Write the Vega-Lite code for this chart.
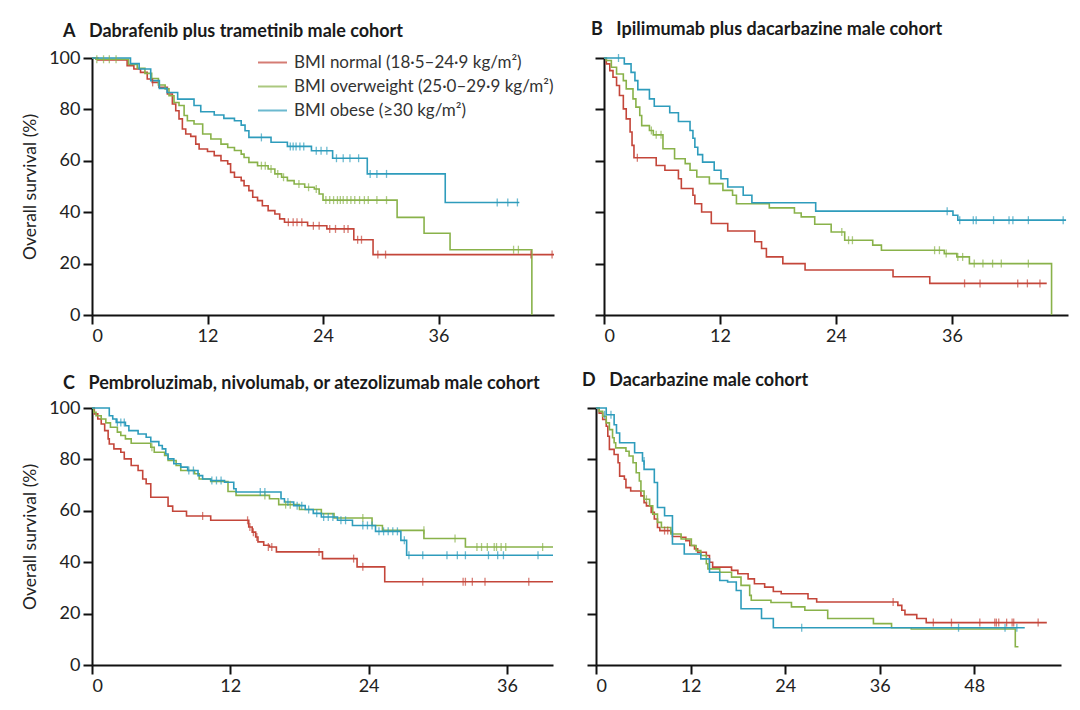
{
  "$schema": "https://vega.github.io/schema/vega-lite/v6.json",
  "background": "white",
  "padding": {"left": 21, "top": 21, "right": 5, "bottom": 5},
  "config": {
    "font": "Lato",
    "view": {"stroke": null},
    "axis": {"grid": false, "domainColor": "#111", "domainWidth": 2, "tickColor": "#111", "tickWidth": 2, "tickSize": 9, "labelFontSize": 18, "labelColor": "#222", "titleFontSize": 17.5, "titleFontWeight": "normal", "titleColor": "#222", "labelPadding": 3},
    "axisY": {"titlePadding": 9},
    "title": {"anchor": "start", "frame": "group", "fontSize": 18, "fontWeight": "bold", "color": "#1a1a1a", "offset": 6}
  },
  "datasets": {
    "surv": [
      {"p":"A","g":"n","t":0,"s":100},{"p":"A","g":"n","t":0.6,"s":99.2},{"p":"A","g":"n","t":3.65,"s":97},{"p":"A","g":"n","t":4.35,"s":95.7},{"p":"A","g":"n","t":5.04,"s":94.4},{"p":"A","g":"n","t":5.74,"s":91.8},{"p":"A","g":"n","t":6.26,"s":90.5},{"p":"A","g":"n","t":6.96,"s":88.6},{"p":"A","g":"n","t":7.83,"s":86},{"p":"A","g":"n","t":8.35,"s":82.1},{"p":"A","g":"n","t":8.7,"s":79.5},{"p":"A","g":"n","t":9.04,"s":76.3},{"p":"A","g":"n","t":9.39,"s":72.4},{"p":"A","g":"n","t":9.74,"s":70.4},{"p":"A","g":"n","t":10.26,"s":69.5},{"p":"A","g":"n","t":10.78,"s":66.5},{"p":"A","g":"n","t":11.13,"s":64.6},{"p":"A","g":"n","t":12,"s":63.6},{"p":"A","g":"n","t":12.7,"s":62},{"p":"A","g":"n","t":13.4,"s":60},{"p":"A","g":"n","t":14.1,"s":58.8},{"p":"A","g":"n","t":14.4,"s":55.5},{"p":"A","g":"n","t":14.8,"s":53.6},{"p":"A","g":"n","t":15.5,"s":52.3},{"p":"A","g":"n","t":15.8,"s":50.3},{"p":"A","g":"n","t":16.3,"s":48.4},{"p":"A","g":"n","t":16.7,"s":45.8},{"p":"A","g":"n","t":17.2,"s":44.5},{"p":"A","g":"n","t":17.7,"s":42.5},{"p":"A","g":"n","t":18.3,"s":40.6},{"p":"A","g":"n","t":19,"s":39.3},{"p":"A","g":"n","t":19.5,"s":37.4},{"p":"A","g":"n","t":20,"s":36.1},{"p":"A","g":"n","t":22.4,"s":34.7},{"p":"A","g":"n","t":24.4,"s":33.5},{"p":"A","g":"n","t":27.2,"s":29.3},{"p":"A","g":"n","t":29.2,"s":23.5},{"p":"A","g":"n","t":48,"s":23.5},
      {"p":"A","g":"o","t":0,"s":100},{"p":"A","g":"o","t":0.4,"s":99.5},{"p":"A","g":"o","t":3.8,"s":97.5},{"p":"A","g":"o","t":4.7,"s":96},{"p":"A","g":"o","t":5.5,"s":94},{"p":"A","g":"o","t":6.2,"s":92},{"p":"A","g":"o","t":6.9,"s":89.5},{"p":"A","g":"o","t":7.6,"s":88},{"p":"A","g":"o","t":8,"s":85.3},{"p":"A","g":"o","t":8.52,"s":82.7},{"p":"A","g":"o","t":9.04,"s":81.5},{"p":"A","g":"o","t":9.57,"s":77.6},{"p":"A","g":"o","t":9.91,"s":75.6},{"p":"A","g":"o","t":10.6,"s":74.3},{"p":"A","g":"o","t":11.5,"s":70.4},{"p":"A","g":"o","t":12.35,"s":68.5},{"p":"A","g":"o","t":13.4,"s":66.5},{"p":"A","g":"o","t":14.1,"s":65.2},{"p":"A","g":"o","t":14.8,"s":64},{"p":"A","g":"o","t":15.5,"s":62.6},{"p":"A","g":"o","t":15.8,"s":61.3},{"p":"A","g":"o","t":16.3,"s":59.4},{"p":"A","g":"o","t":17.2,"s":58.1},{"p":"A","g":"o","t":18.3,"s":56.8},{"p":"A","g":"o","t":19,"s":54.9},{"p":"A","g":"o","t":19.7,"s":53.6},{"p":"A","g":"o","t":20.3,"s":52.3},{"p":"A","g":"o","t":21,"s":51},{"p":"A","g":"o","t":22.1,"s":49.7},{"p":"A","g":"o","t":23.1,"s":49},{"p":"A","g":"o","t":23.6,"s":47.1},{"p":"A","g":"o","t":24,"s":44.7},{"p":"A","g":"o","t":31.7,"s":38},{"p":"A","g":"o","t":34.5,"s":31.8},{"p":"A","g":"o","t":37.2,"s":25.4},{"p":"A","g":"o","t":45.7,"s":0},
      {"p":"A","g":"b","t":0,"s":100},{"p":"A","g":"b","t":4,"s":97.8},{"p":"A","g":"b","t":4.9,"s":95.7},{"p":"A","g":"b","t":6.1,"s":91.2},{"p":"A","g":"b","t":7,"s":88.2},{"p":"A","g":"b","t":7.8,"s":86.6},{"p":"A","g":"b","t":8.9,"s":84},{"p":"A","g":"b","t":10.6,"s":81.5},{"p":"A","g":"b","t":11.3,"s":79.1},{"p":"A","g":"b","t":12.7,"s":77.8},{"p":"A","g":"b","t":13.7,"s":76.5},{"p":"A","g":"b","t":14.8,"s":75.6},{"p":"A","g":"b","t":15.5,"s":73.9},{"p":"A","g":"b","t":15.9,"s":71.7},{"p":"A","g":"b","t":16.3,"s":69.1},{"p":"A","g":"b","t":18.6,"s":67.2},{"p":"A","g":"b","t":20.3,"s":65.6},{"p":"A","g":"b","t":22.8,"s":63.9},{"p":"A","g":"b","t":25,"s":61},{"p":"A","g":"b","t":28.6,"s":54.9},{"p":"A","g":"b","t":36.7,"s":43.8},{"p":"A","g":"b","t":44.4,"s":43.8},
      {"p":"B","g":"n","t":0,"s":100},{"p":"B","g":"n","t":0.24,"s":97.7},{"p":"B","g":"n","t":0.6,"s":95.1},{"p":"B","g":"n","t":0.93,"s":92.5},{"p":"B","g":"n","t":1.3,"s":89.3},{"p":"B","g":"n","t":1.6,"s":85.4},{"p":"B","g":"n","t":2,"s":80.2},{"p":"B","g":"n","t":2.3,"s":76.3},{"p":"B","g":"n","t":2.7,"s":71.2},{"p":"B","g":"n","t":2.9,"s":66},{"p":"B","g":"n","t":3.1,"s":61.2},{"p":"B","g":"n","t":5.4,"s":58.2},{"p":"B","g":"n","t":6.3,"s":56.3},{"p":"B","g":"n","t":7.7,"s":53},{"p":"B","g":"n","t":8,"s":49.2},{"p":"B","g":"n","t":9.2,"s":46.6},{"p":"B","g":"n","t":9.4,"s":43.3},{"p":"B","g":"n","t":10.1,"s":40.1},{"p":"B","g":"n","t":11.1,"s":35.6},{"p":"B","g":"n","t":12.8,"s":32.7},{"p":"B","g":"n","t":15.6,"s":28.5},{"p":"B","g":"n","t":16.3,"s":25.9},{"p":"B","g":"n","t":16.8,"s":22.6},{"p":"B","g":"n","t":18.5,"s":20},{"p":"B","g":"n","t":20.8,"s":17.5},{"p":"B","g":"n","t":29.9,"s":14.9},{"p":"B","g":"n","t":33.7,"s":12.3},{"p":"B","g":"n","t":45.8,"s":12.3},
      {"p":"B","g":"o","t":0,"s":100},{"p":"B","g":"o","t":0.24,"s":99},{"p":"B","g":"o","t":0.76,"s":96.4},{"p":"B","g":"o","t":1.3,"s":93.8},{"p":"B","g":"o","t":2,"s":91.2},{"p":"B","g":"o","t":2.3,"s":88},{"p":"B","g":"o","t":3,"s":84.1},{"p":"B","g":"o","t":3.3,"s":80.9},{"p":"B","g":"o","t":3.7,"s":77.6},{"p":"B","g":"o","t":3.9,"s":73.7},{"p":"B","g":"o","t":4.7,"s":71.8},{"p":"B","g":"o","t":5.1,"s":70.1},{"p":"B","g":"o","t":6.1,"s":64.7},{"p":"B","g":"o","t":7.3,"s":60.8},{"p":"B","g":"o","t":8.4,"s":58.9},{"p":"B","g":"o","t":8.9,"s":56.3},{"p":"B","g":"o","t":9.6,"s":53.7},{"p":"B","g":"o","t":10.9,"s":51.1},{"p":"B","g":"o","t":12.3,"s":48.5},{"p":"B","g":"o","t":13.3,"s":46.6},{"p":"B","g":"o","t":13.7,"s":43.3},{"p":"B","g":"o","t":17.1,"s":41.7},{"p":"B","g":"o","t":19.7,"s":39.7},{"p":"B","g":"o","t":20.4,"s":38.2},{"p":"B","g":"o","t":21.8,"s":35.3},{"p":"B","g":"o","t":23.5,"s":32.3},{"p":"B","g":"o","t":24.9,"s":29.1},{"p":"B","g":"o","t":27.8,"s":27.2},{"p":"B","g":"o","t":28.7,"s":25.2},{"p":"B","g":"o","t":35.2,"s":23.9},{"p":"B","g":"o","t":36.5,"s":22.6},{"p":"B","g":"o","t":37.8,"s":20},{"p":"B","g":"o","t":46.3,"s":0},
      {"p":"B","g":"b","t":0,"s":100},{"p":"B","g":"b","t":2.1,"s":97.7},{"p":"B","g":"b","t":2.8,"s":94.4},{"p":"B","g":"b","t":3.2,"s":91.2},{"p":"B","g":"b","t":3.5,"s":87.7},{"p":"B","g":"b","t":4.7,"s":84.1},{"p":"B","g":"b","t":5.2,"s":81.2},{"p":"B","g":"b","t":6.8,"s":78.7},{"p":"B","g":"b","t":7.7,"s":75.3},{"p":"B","g":"b","t":8.9,"s":71.8},{"p":"B","g":"b","t":9.2,"s":68.8},{"p":"B","g":"b","t":9.4,"s":65.3},{"p":"B","g":"b","t":9.7,"s":62.4},{"p":"B","g":"b","t":10.2,"s":59.5},{"p":"B","g":"b","t":11.4,"s":56.3},{"p":"B","g":"b","t":12.1,"s":53},{"p":"B","g":"b","t":12.8,"s":49.8},{"p":"B","g":"b","t":14.4,"s":46.6},{"p":"B","g":"b","t":15.3,"s":43.7},{"p":"B","g":"b","t":21.9,"s":40.4},{"p":"B","g":"b","t":36.1,"s":38.8},{"p":"B","g":"b","t":36.6,"s":36.9},{"p":"B","g":"b","t":47.8,"s":36.9},
      {"p":"C","g":"n","t":0,"s":100},{"p":"C","g":"n","t":0.2,"s":97.7},{"p":"C","g":"n","t":0.5,"s":95.7},{"p":"C","g":"n","t":0.8,"s":93.8},{"p":"C","g":"n","t":1.1,"s":91.2},{"p":"C","g":"n","t":1.4,"s":88},{"p":"C","g":"n","t":1.5,"s":86},{"p":"C","g":"n","t":1.9,"s":84.1},{"p":"C","g":"n","t":2.5,"s":82.8},{"p":"C","g":"n","t":2.8,"s":80.2},{"p":"C","g":"n","t":3.4,"s":77.6},{"p":"C","g":"n","t":4,"s":75.7},{"p":"C","g":"n","t":4.4,"s":72.4},{"p":"C","g":"n","t":4.7,"s":70.5},{"p":"C","g":"n","t":5.1,"s":65.3},{"p":"C","g":"n","t":6.6,"s":61.8},{"p":"C","g":"n","t":7,"s":59.8},{"p":"C","g":"n","t":8.2,"s":58},{"p":"C","g":"n","t":10.3,"s":56.3},{"p":"C","g":"n","t":13.6,"s":53.7},{"p":"C","g":"n","t":13.9,"s":51.7},{"p":"C","g":"n","t":14.2,"s":49.8},{"p":"C","g":"n","t":14.4,"s":47.9},{"p":"C","g":"n","t":14.9,"s":46.6},{"p":"C","g":"n","t":15.4,"s":45.9},{"p":"C","g":"n","t":16,"s":44},{"p":"C","g":"n","t":20,"s":41.4},{"p":"C","g":"n","t":23,"s":38.2},{"p":"C","g":"n","t":25.4,"s":32.4},{"p":"C","g":"n","t":40,"s":32.4},
      {"p":"C","g":"o","t":0,"s":100},{"p":"C","g":"o","t":0.15,"s":98.3},{"p":"C","g":"o","t":0.35,"s":97},{"p":"C","g":"o","t":0.8,"s":95.7},{"p":"C","g":"o","t":1.2,"s":94.2},{"p":"C","g":"o","t":1.6,"s":92.5},{"p":"C","g":"o","t":2.2,"s":90.6},{"p":"C","g":"o","t":2.5,"s":89.3},{"p":"C","g":"o","t":2.9,"s":88},{"p":"C","g":"o","t":3.4,"s":86.3},{"p":"C","g":"o","t":5.1,"s":84.7},{"p":"C","g":"o","t":5.4,"s":82.8},{"p":"C","g":"o","t":6.3,"s":81.5},{"p":"C","g":"o","t":6.6,"s":79.6},{"p":"C","g":"o","t":7.3,"s":77.6},{"p":"C","g":"o","t":7.7,"s":75.7},{"p":"C","g":"o","t":8.9,"s":74.4},{"p":"C","g":"o","t":9.3,"s":72.4},{"p":"C","g":"o","t":10.3,"s":71.4},{"p":"C","g":"o","t":11.8,"s":67.5},{"p":"C","g":"o","t":12.5,"s":66},{"p":"C","g":"o","t":15.4,"s":64.7},{"p":"C","g":"o","t":16.2,"s":62.4},{"p":"C","g":"o","t":18,"s":60.5},{"p":"C","g":"o","t":19.9,"s":58.9},{"p":"C","g":"o","t":21,"s":57.2},{"p":"C","g":"o","t":24.3,"s":54.3},{"p":"C","g":"o","t":25.2,"s":52.4},{"p":"C","g":"o","t":28.8,"s":49.2},{"p":"C","g":"o","t":32.4,"s":45.9},{"p":"C","g":"o","t":40,"s":45.9},
      {"p":"C","g":"b","t":0,"s":100},{"p":"C","g":"b","t":1.5,"s":97},{"p":"C","g":"b","t":1.8,"s":95.7},{"p":"C","g":"b","t":2.1,"s":94.4},{"p":"C","g":"b","t":2.9,"s":93.1},{"p":"C","g":"b","t":3.2,"s":91.2},{"p":"C","g":"b","t":4,"s":89.9},{"p":"C","g":"b","t":4.7,"s":88.6},{"p":"C","g":"b","t":5.1,"s":86.9},{"p":"C","g":"b","t":5.8,"s":85.4},{"p":"C","g":"b","t":6.1,"s":84.1},{"p":"C","g":"b","t":6.4,"s":82.1},{"p":"C","g":"b","t":6.6,"s":80.2},{"p":"C","g":"b","t":7.1,"s":78.3},{"p":"C","g":"b","t":7.7,"s":77},{"p":"C","g":"b","t":8.3,"s":75.7},{"p":"C","g":"b","t":9.2,"s":73.7},{"p":"C","g":"b","t":9.6,"s":72.4},{"p":"C","g":"b","t":10.3,"s":71.8},{"p":"C","g":"b","t":11.5,"s":71.1},{"p":"C","g":"b","t":12.3,"s":68.6},{"p":"C","g":"b","t":12.5,"s":67.3},{"p":"C","g":"b","t":16.4,"s":64.7},{"p":"C","g":"b","t":16.7,"s":63.4},{"p":"C","g":"b","t":17.5,"s":62},{"p":"C","g":"b","t":18.5,"s":60.5},{"p":"C","g":"b","t":19.2,"s":59},{"p":"C","g":"b","t":19.9,"s":57.6},{"p":"C","g":"b","t":21.3,"s":56.3},{"p":"C","g":"b","t":22.6,"s":54.3},{"p":"C","g":"b","t":24.6,"s":52},{"p":"C","g":"b","t":26.8,"s":48.5},{"p":"C","g":"b","t":27.3,"s":42.7},{"p":"C","g":"b","t":40,"s":42.7},
      {"p":"D","g":"n","t":0,"s":100},{"p":"D","g":"n","t":0.4,"s":98},{"p":"D","g":"n","t":0.85,"s":95.5},{"p":"D","g":"n","t":1.3,"s":92.9},{"p":"D","g":"n","t":1.5,"s":89},{"p":"D","g":"n","t":1.7,"s":83.9},{"p":"D","g":"n","t":2.3,"s":81.9},{"p":"D","g":"n","t":2.8,"s":78.7},{"p":"D","g":"n","t":3,"s":73.5},{"p":"D","g":"n","t":3.6,"s":72.3},{"p":"D","g":"n","t":3.8,"s":69},{"p":"D","g":"n","t":4.4,"s":67.7},{"p":"D","g":"n","t":5.7,"s":65.8},{"p":"D","g":"n","t":6.1,"s":63.2},{"p":"D","g":"n","t":6.4,"s":61.9},{"p":"D","g":"n","t":7,"s":59.4},{"p":"D","g":"n","t":7.4,"s":56.8},{"p":"D","g":"n","t":7.8,"s":53.5},{"p":"D","g":"n","t":8.1,"s":52.3},{"p":"D","g":"n","t":9.5,"s":51.6},{"p":"D","g":"n","t":9.7,"s":50},{"p":"D","g":"n","t":10.8,"s":49.7},{"p":"D","g":"n","t":11.4,"s":48.4},{"p":"D","g":"n","t":11.9,"s":46.5},{"p":"D","g":"n","t":12.5,"s":45.2},{"p":"D","g":"n","t":12.9,"s":43.9},{"p":"D","g":"n","t":14,"s":42.6},{"p":"D","g":"n","t":14.4,"s":40},{"p":"D","g":"n","t":14.8,"s":38.1},{"p":"D","g":"n","t":17.2,"s":36.8},{"p":"D","g":"n","t":18,"s":35.5},{"p":"D","g":"n","t":19.3,"s":33.5},{"p":"D","g":"n","t":20.1,"s":31.6},{"p":"D","g":"n","t":21.4,"s":30.3},{"p":"D","g":"n","t":22.5,"s":28.6},{"p":"D","g":"n","t":23.5,"s":27.7},{"p":"D","g":"n","t":26.9,"s":25.8},{"p":"D","g":"n","t":28,"s":24.5},{"p":"D","g":"n","t":38.3,"s":23.2},{"p":"D","g":"n","t":38.8,"s":21.3},{"p":"D","g":"n","t":39.2,"s":19.6},{"p":"D","g":"n","t":40.7,"s":18.1},{"p":"D","g":"n","t":41.9,"s":16.5},{"p":"D","g":"n","t":57.2,"s":16.5},
      {"p":"D","g":"o","t":0,"s":100},{"p":"D","g":"o","t":0.4,"s":98.7},{"p":"D","g":"o","t":0.85,"s":96.8},{"p":"D","g":"o","t":1.3,"s":94.2},{"p":"D","g":"o","t":1.7,"s":91.6},{"p":"D","g":"o","t":2.1,"s":88.4},{"p":"D","g":"o","t":2.3,"s":86.5},{"p":"D","g":"o","t":2.5,"s":84.5},{"p":"D","g":"o","t":3.8,"s":83.2},{"p":"D","g":"o","t":4.2,"s":81.3},{"p":"D","g":"o","t":4.7,"s":78.7},{"p":"D","g":"o","t":5.1,"s":74.8},{"p":"D","g":"o","t":5.5,"s":71.6},{"p":"D","g":"o","t":5.7,"s":67.7},{"p":"D","g":"o","t":6.1,"s":64.5},{"p":"D","g":"o","t":6.8,"s":61.9},{"p":"D","g":"o","t":7.2,"s":58.7},{"p":"D","g":"o","t":7.8,"s":55.5},{"p":"D","g":"o","t":8.3,"s":53.5},{"p":"D","g":"o","t":9.5,"s":51},{"p":"D","g":"o","t":10.8,"s":49},{"p":"D","g":"o","t":12.1,"s":46.5},{"p":"D","g":"o","t":12.7,"s":44.5},{"p":"D","g":"o","t":13.3,"s":42.6},{"p":"D","g":"o","t":14,"s":39.4},{"p":"D","g":"o","t":14.2,"s":37.4},{"p":"D","g":"o","t":15.7,"s":36.1},{"p":"D","g":"o","t":17.2,"s":34.2},{"p":"D","g":"o","t":18.4,"s":31},{"p":"D","g":"o","t":19.5,"s":27.1},{"p":"D","g":"o","t":19.7,"s":25.2},{"p":"D","g":"o","t":22.2,"s":24.3},{"p":"D","g":"o","t":24.8,"s":22.6},{"p":"D","g":"o","t":26.5,"s":21.3},{"p":"D","g":"o","t":29.4,"s":18.1},{"p":"D","g":"o","t":35.2,"s":16.1},{"p":"D","g":"o","t":37.5,"s":14.5},{"p":"D","g":"o","t":40,"s":14},{"p":"D","g":"o","t":53.2,"s":7.1},{"p":"D","g":"o","t":53.6,"s":7.1},
      {"p":"D","g":"b","t":0,"s":100},{"p":"D","g":"b","t":1.3,"s":97.4},{"p":"D","g":"b","t":2.3,"s":93.5},{"p":"D","g":"b","t":2.6,"s":90.3},{"p":"D","g":"b","t":3,"s":86.5},{"p":"D","g":"b","t":4.9,"s":82.6},{"p":"D","g":"b","t":5.9,"s":79.4},{"p":"D","g":"b","t":6.1,"s":76.1},{"p":"D","g":"b","t":7.4,"s":71},{"p":"D","g":"b","t":7.8,"s":61.3},{"p":"D","g":"b","t":8.7,"s":58.1},{"p":"D","g":"b","t":9.7,"s":47.1},{"p":"D","g":"b","t":11.2,"s":43.2},{"p":"D","g":"b","t":13.3,"s":41.3},{"p":"D","g":"b","t":14.4,"s":36.1},{"p":"D","g":"b","t":15.7,"s":32.9},{"p":"D","g":"b","t":16.7,"s":32.3},{"p":"D","g":"b","t":17.8,"s":29},{"p":"D","g":"b","t":18.4,"s":21.9},{"p":"D","g":"b","t":21,"s":18.1},{"p":"D","g":"b","t":22.5,"s":14.5},{"p":"D","g":"b","t":54.4,"s":14.5}
    ],
    "cens": [
      {"p":"A","g":"n","t":6.3,"s":90.5},{"p":"A","g":"n","t":20.4,"s":36.1},{"p":"A","g":"n","t":20.9,"s":36.1},{"p":"A","g":"n","t":21.3,"s":36.1},{"p":"A","g":"n","t":21.8,"s":36.1},{"p":"A","g":"n","t":23,"s":34.7},{"p":"A","g":"n","t":23.6,"s":34.7},{"p":"A","g":"n","t":24.7,"s":33.5},{"p":"A","g":"n","t":25.3,"s":33.5},{"p":"A","g":"n","t":26.2,"s":33.5},{"p":"A","g":"n","t":26.6,"s":33.5},{"p":"A","g":"n","t":27.6,"s":29.3},{"p":"A","g":"n","t":28,"s":29.3},{"p":"A","g":"n","t":29.7,"s":23.5},{"p":"A","g":"n","t":30.5,"s":23.5},{"p":"A","g":"n","t":45.6,"s":23.5},{"p":"A","g":"n","t":47.8,"s":23.5},
      {"p":"A","g":"o","t":0.5,"s":99.5},{"p":"A","g":"o","t":1.2,"s":99.5},{"p":"A","g":"o","t":1.8,"s":99.5},{"p":"A","g":"o","t":2.5,"s":99.5},{"p":"A","g":"o","t":17.6,"s":58.1},{"p":"A","g":"o","t":18,"s":58.1},{"p":"A","g":"o","t":18.6,"s":56.8},{"p":"A","g":"o","t":19.3,"s":54.9},{"p":"A","g":"o","t":19.9,"s":53.6},{"p":"A","g":"o","t":21.5,"s":51},{"p":"A","g":"o","t":22.5,"s":49.7},{"p":"A","g":"o","t":23.3,"s":49},{"p":"A","g":"o","t":24.3,"s":44.7},{"p":"A","g":"o","t":24.7,"s":44.7},{"p":"A","g":"o","t":25.1,"s":44.7},{"p":"A","g":"o","t":25.5,"s":44.7},{"p":"A","g":"o","t":25.8,"s":44.7},{"p":"A","g":"o","t":26.1,"s":44.7},{"p":"A","g":"o","t":26.5,"s":44.7},{"p":"A","g":"o","t":26.9,"s":44.7},{"p":"A","g":"o","t":27.3,"s":44.7},{"p":"A","g":"o","t":27.8,"s":44.7},{"p":"A","g":"o","t":28.3,"s":44.7},{"p":"A","g":"o","t":28.7,"s":44.7},{"p":"A","g":"o","t":29.6,"s":44.7},{"p":"A","g":"o","t":30.6,"s":44.7},{"p":"A","g":"o","t":43.8,"s":25.4},{"p":"A","g":"o","t":44.3,"s":25.4},
      {"p":"A","g":"b","t":17.6,"s":69.1},{"p":"A","g":"b","t":20.6,"s":65.6},{"p":"A","g":"b","t":20.9,"s":65.6},{"p":"A","g":"b","t":21.2,"s":65.6},{"p":"A","g":"b","t":21.6,"s":65.6},{"p":"A","g":"b","t":22,"s":65.6},{"p":"A","g":"b","t":23.3,"s":63.9},{"p":"A","g":"b","t":23.8,"s":63.9},{"p":"A","g":"b","t":24.4,"s":63.9},{"p":"A","g":"b","t":25.4,"s":61},{"p":"A","g":"b","t":26.1,"s":61},{"p":"A","g":"b","t":26.8,"s":61},{"p":"A","g":"b","t":27.7,"s":61},{"p":"A","g":"b","t":28.9,"s":54.9},{"p":"A","g":"b","t":29.6,"s":54.9},{"p":"A","g":"b","t":30.6,"s":54.9},{"p":"A","g":"b","t":42.1,"s":43.8},{"p":"A","g":"b","t":43.2,"s":43.8},{"p":"A","g":"b","t":44.2,"s":43.8},
      {"p":"B","g":"n","t":3.45,"s":61.2},{"p":"B","g":"n","t":37.3,"s":12.3},{"p":"B","g":"n","t":38.9,"s":12.3},{"p":"B","g":"n","t":42.8,"s":12.3},{"p":"B","g":"n","t":43.8,"s":12.3},{"p":"B","g":"n","t":45.1,"s":12.3},
      {"p":"B","g":"o","t":4.9,"s":71.8},{"p":"B","g":"o","t":5.4,"s":70.1},{"p":"B","g":"o","t":5.9,"s":70.1},{"p":"B","g":"o","t":24.6,"s":32.3},{"p":"B","g":"o","t":25.3,"s":29.1},{"p":"B","g":"o","t":25.7,"s":29.1},{"p":"B","g":"o","t":34.2,"s":25.2},{"p":"B","g":"o","t":34.7,"s":25.2},{"p":"B","g":"o","t":35.4,"s":23.9},{"p":"B","g":"o","t":36.6,"s":22.6},{"p":"B","g":"o","t":37.1,"s":22.6},{"p":"B","g":"o","t":38.3,"s":20},{"p":"B","g":"o","t":39.2,"s":20},{"p":"B","g":"o","t":40.2,"s":20},{"p":"B","g":"o","t":41.1,"s":20},{"p":"B","g":"o","t":43.9,"s":20},
      {"p":"B","g":"b","t":1.5,"s":100},{"p":"B","g":"b","t":35.5,"s":40.4},{"p":"B","g":"b","t":36.8,"s":36.9},{"p":"B","g":"b","t":38.2,"s":36.9},{"p":"B","g":"b","t":38.5,"s":36.9},{"p":"B","g":"b","t":40.3,"s":36.9},{"p":"B","g":"b","t":41.9,"s":36.9},{"p":"B","g":"b","t":42.3,"s":36.9},{"p":"B","g":"b","t":43.9,"s":36.9},{"p":"B","g":"b","t":47.5,"s":36.9},
      {"p":"C","g":"n","t":9.6,"s":58},{"p":"C","g":"n","t":13.5,"s":56.3},{"p":"C","g":"n","t":13.7,"s":53.7},{"p":"C","g":"n","t":14,"s":51.7},{"p":"C","g":"n","t":14.3,"s":49.8},{"p":"C","g":"n","t":15.3,"s":45.9},{"p":"C","g":"n","t":15.6,"s":45.9},{"p":"C","g":"n","t":19.7,"s":44},{"p":"C","g":"n","t":22.7,"s":41.4},{"p":"C","g":"n","t":23.5,"s":38.2},{"p":"C","g":"n","t":28.7,"s":32.4},{"p":"C","g":"n","t":32.2,"s":32.4},{"p":"C","g":"n","t":32.4,"s":32.4},{"p":"C","g":"n","t":33,"s":32.4},{"p":"C","g":"n","t":34.1,"s":32.4},{"p":"C","g":"n","t":37.9,"s":32.4},
      {"p":"C","g":"o","t":5.2,"s":84.7},{"p":"C","g":"o","t":15,"s":66},{"p":"C","g":"o","t":16.8,"s":62.4},{"p":"C","g":"o","t":17.2,"s":62.4},{"p":"C","g":"o","t":23.5,"s":57.2},{"p":"C","g":"o","t":28.8,"s":52.4},{"p":"C","g":"o","t":31.5,"s":49.2},{"p":"C","g":"o","t":33.4,"s":45.9},{"p":"C","g":"o","t":33.8,"s":45.9},{"p":"C","g":"o","t":34.3,"s":45.9},{"p":"C","g":"o","t":34.9,"s":45.9},{"p":"C","g":"o","t":35.1,"s":45.9},{"p":"C","g":"o","t":35.5,"s":45.9},{"p":"C","g":"o","t":35.9,"s":45.9},{"p":"C","g":"o","t":39.1,"s":45.9},
      {"p":"C","g":"b","t":2.2,"s":94.4},{"p":"C","g":"b","t":2.5,"s":94.4},{"p":"C","g":"b","t":2.8,"s":94.4},{"p":"C","g":"b","t":8.4,"s":75.7},{"p":"C","g":"b","t":8.8,"s":75.7},{"p":"C","g":"b","t":10.4,"s":71.8},{"p":"C","g":"b","t":10.8,"s":71.8},{"p":"C","g":"b","t":11.2,"s":71.8},{"p":"C","g":"b","t":14.6,"s":67.3},{"p":"C","g":"b","t":15,"s":67.3},{"p":"C","g":"b","t":17,"s":63.4},{"p":"C","g":"b","t":17.8,"s":62},{"p":"C","g":"b","t":18.2,"s":62},{"p":"C","g":"b","t":18.8,"s":60.5},{"p":"C","g":"b","t":19.5,"s":59},{"p":"C","g":"b","t":20.1,"s":57.6},{"p":"C","g":"b","t":20.5,"s":57.6},{"p":"C","g":"b","t":20.9,"s":57.6},{"p":"C","g":"b","t":21.6,"s":56.3},{"p":"C","g":"b","t":22,"s":56.3},{"p":"C","g":"b","t":23.5,"s":54.3},{"p":"C","g":"b","t":23.9,"s":54.3},{"p":"C","g":"b","t":24.3,"s":54.3},{"p":"C","g":"b","t":24.9,"s":52},{"p":"C","g":"b","t":25.3,"s":52},{"p":"C","g":"b","t":25.7,"s":52},{"p":"C","g":"b","t":26.1,"s":52},{"p":"C","g":"b","t":26.5,"s":52},{"p":"C","g":"b","t":27.1,"s":48.5},{"p":"C","g":"b","t":27.5,"s":42.7},{"p":"C","g":"b","t":28.7,"s":42.7},{"p":"C","g":"b","t":30.8,"s":42.7},{"p":"C","g":"b","t":31.7,"s":42.7},{"p":"C","g":"b","t":32.4,"s":42.7},{"p":"C","g":"b","t":34.4,"s":42.7},{"p":"C","g":"b","t":35.2,"s":42.7},{"p":"C","g":"b","t":35.7,"s":42.7},{"p":"C","g":"b","t":38.7,"s":42.7},
      {"p":"D","g":"n","t":8.7,"s":52.3},{"p":"D","g":"n","t":9.1,"s":52.3},{"p":"D","g":"n","t":37.7,"s":24.5},{"p":"D","g":"n","t":42.8,"s":16.5},{"p":"D","g":"n","t":45.1,"s":16.5},{"p":"D","g":"n","t":48.7,"s":16.5},{"p":"D","g":"n","t":50.6,"s":16.5},{"p":"D","g":"n","t":50.8,"s":16.5},{"p":"D","g":"n","t":51.1,"s":16.5},{"p":"D","g":"n","t":52.1,"s":16.5},{"p":"D","g":"n","t":52.8,"s":16.5},{"p":"D","g":"n","t":53,"s":16.5},{"p":"D","g":"n","t":56.1,"s":16.5},
      {"p":"D","g":"o","t":6.4,"s":64.5},
      {"p":"D","g":"b","t":1.1,"s":97.4},{"p":"D","g":"b","t":1.9,"s":97.4},{"p":"D","g":"b","t":6.1,"s":79.4},{"p":"D","g":"b","t":26.1,"s":14.5},{"p":"D","g":"b","t":46,"s":14.5},{"p":"D","g":"b","t":51.9,"s":14.5},{"p":"D","g":"b","t":53.4,"s":14.5}
    ]
  },
  "spacing": 26,
  "resolve": {"scale": {"color": "independent"}, "legend": {"color": "independent"}},
  "vconcat": [
    {
      "spacing": 33,
      "resolve": {"scale": {"color": "independent"}, "legend": {"color": "independent"}},
      "hconcat": [
        {
          "width": 462, "height": 257,
          "title": {"text": "A\u2003Dabrafenib plus trametinib male cohort", "dx": -29},
          "layer": [
            {
              "data": {"name": "surv"}, "transform": [{"filter": "datum.p == 'A'"}],
              "mark": {"type": "line", "interpolate": "step-after", "strokeWidth": 1.6},
              "encoding": {
                "x": {"field": "t", "type": "quantitative", "scale": {"domain": [0, 48], "nice": false}, "axis": {"values": [0, 12, 24, 36], "title": null}},
                "y": {"field": "s", "type": "quantitative", "scale": {"domain": [0, 100], "nice": false}, "axis": {"values": [0, 20, 40, 60, 80, 100], "title": "Overall survival (%)"}},
                "color": {"field": "g", "type": "nominal", "scale": {"domain": ["n", "o", "b"], "range": ["#c4463a", "#89b24a", "#2e9cbc"]},
                  "legend": {"orient": "none", "legendX": 165, "legendY": -11, "title": null, "symbolType": "stroke", "symbolSize": 841, "symbolStrokeWidth": 2, "labelFontSize": 17, "labelColor": "#333", "labelLimit": 0, "rowPadding": -1, "labelOffset": 6,
                    "labelExpr": "datum.label == 'n' ? 'BMI normal (18·5–24·9 kg/m²)' : datum.label == 'o' ? 'BMI overweight (25·0–29·9 kg/m²)' : 'BMI obese (≥30 kg/m²)'"}}
              }
            },
            {
              "data": {"name": "cens"}, "transform": [{"filter": "datum.p == 'A'"}],
              "mark": {"type": "tick", "orient": "vertical", "size": 8, "thickness": 1.3},
              "encoding": {
                "x": {"field": "t", "type": "quantitative"},
                "y": {"field": "s", "type": "quantitative"},
                "color": {"field": "g", "type": "nominal"}
              }
            }
          ]
        },
        {
          "width": 464, "height": 257,
          "title": {"text": "B\u2003Ipilimumab plus dacarbazine male cohort", "dx": -13, "offset": 15},
          "layer": [
            {
              "data": {"name": "surv"}, "transform": [{"filter": "datum.p == 'B'"}],
              "mark": {"type": "line", "interpolate": "step-after", "strokeWidth": 1.6},
              "encoding": {
                "x": {"field": "t", "type": "quantitative", "scale": {"domain": [0, 48], "nice": false}, "axis": {"values": [0, 12, 24, 36], "title": null}},
                "y": {"field": "s", "type": "quantitative", "scale": {"domain": [0, 100], "nice": false}, "axis": {"values": [0, 20, 40, 60, 80, 100], "title": null, "labels": false}},
                "color": {"field": "g", "type": "nominal", "scale": {"domain": ["n", "o", "b"], "range": ["#c4463a", "#89b24a", "#2e9cbc"]}, "legend": null}
              }
            },
            {
              "data": {"name": "cens"}, "transform": [{"filter": "datum.p == 'B'"}],
              "mark": {"type": "tick", "orient": "vertical", "size": 8, "thickness": 1.3},
              "encoding": {
                "x": {"field": "t", "type": "quantitative"},
                "y": {"field": "s", "type": "quantitative"},
                "color": {"field": "g", "type": "nominal", "legend": null}
              }
            }
          ]
        }
      ]
    },
    {
      "spacing": 25,
      "resolve": {"scale": {"color": "independent"}, "legend": {"color": "independent"}},
      "hconcat": [
        {
          "width": 461, "height": 257,
          "title": {"text": "C\u2003Pembroluzimab, nivolumab, or atezolizumab male cohort", "dx": -29},
          "layer": [
            {
              "data": {"name": "surv"}, "transform": [{"filter": "datum.p == 'C'"}],
              "mark": {"type": "line", "interpolate": "step-after", "strokeWidth": 1.6},
              "encoding": {
                "x": {"field": "t", "type": "quantitative", "scale": {"domain": [0, 40], "nice": false}, "axis": {"values": [0, 12, 24, 36], "title": null}},
                "y": {"field": "s", "type": "quantitative", "scale": {"domain": [0, 100], "nice": false}, "axis": {"values": [0, 20, 40, 60, 80, 100], "title": "Overall survival (%)"}},
                "color": {"field": "g", "type": "nominal", "scale": {"domain": ["n", "o", "b"], "range": ["#c4463a", "#89b24a", "#2e9cbc"]}, "legend": null}
              }
            },
            {
              "data": {"name": "cens"}, "transform": [{"filter": "datum.p == 'C'"}],
              "mark": {"type": "tick", "orient": "vertical", "size": 8, "thickness": 1.3},
              "encoding": {
                "x": {"field": "t", "type": "quantitative"},
                "y": {"field": "s", "type": "quantitative"},
                "color": {"field": "g", "type": "nominal", "legend": null}
              }
            }
          ]
        },
        {
          "width": 465, "height": 257,
          "title": {"text": "D\u2003Dacarbazine male cohort", "dx": -14, "offset": 15},
          "layer": [
            {
              "data": {"name": "surv"}, "transform": [{"filter": "datum.p == 'D'"}],
              "mark": {"type": "line", "interpolate": "step-after", "strokeWidth": 1.6},
              "encoding": {
                "x": {"field": "t", "type": "quantitative", "scale": {"domain": [0, 59], "nice": false}, "axis": {"values": [0, 12, 24, 36, 48], "title": null}},
                "y": {"field": "s", "type": "quantitative", "scale": {"domain": [0, 100], "nice": false}, "axis": {"values": [0, 20, 40, 60, 80, 100], "title": null, "labels": false}},
                "color": {"field": "g", "type": "nominal", "scale": {"domain": ["n", "o", "b"], "range": ["#c4463a", "#89b24a", "#2e9cbc"]}, "legend": null}
              }
            },
            {
              "data": {"name": "cens"}, "transform": [{"filter": "datum.p == 'D'"}],
              "mark": {"type": "tick", "orient": "vertical", "size": 8, "thickness": 1.3},
              "encoding": {
                "x": {"field": "t", "type": "quantitative"},
                "y": {"field": "s", "type": "quantitative"},
                "color": {"field": "g", "type": "nominal", "legend": null}
              }
            }
          ]
        }
      ]
    }
  ]
}
